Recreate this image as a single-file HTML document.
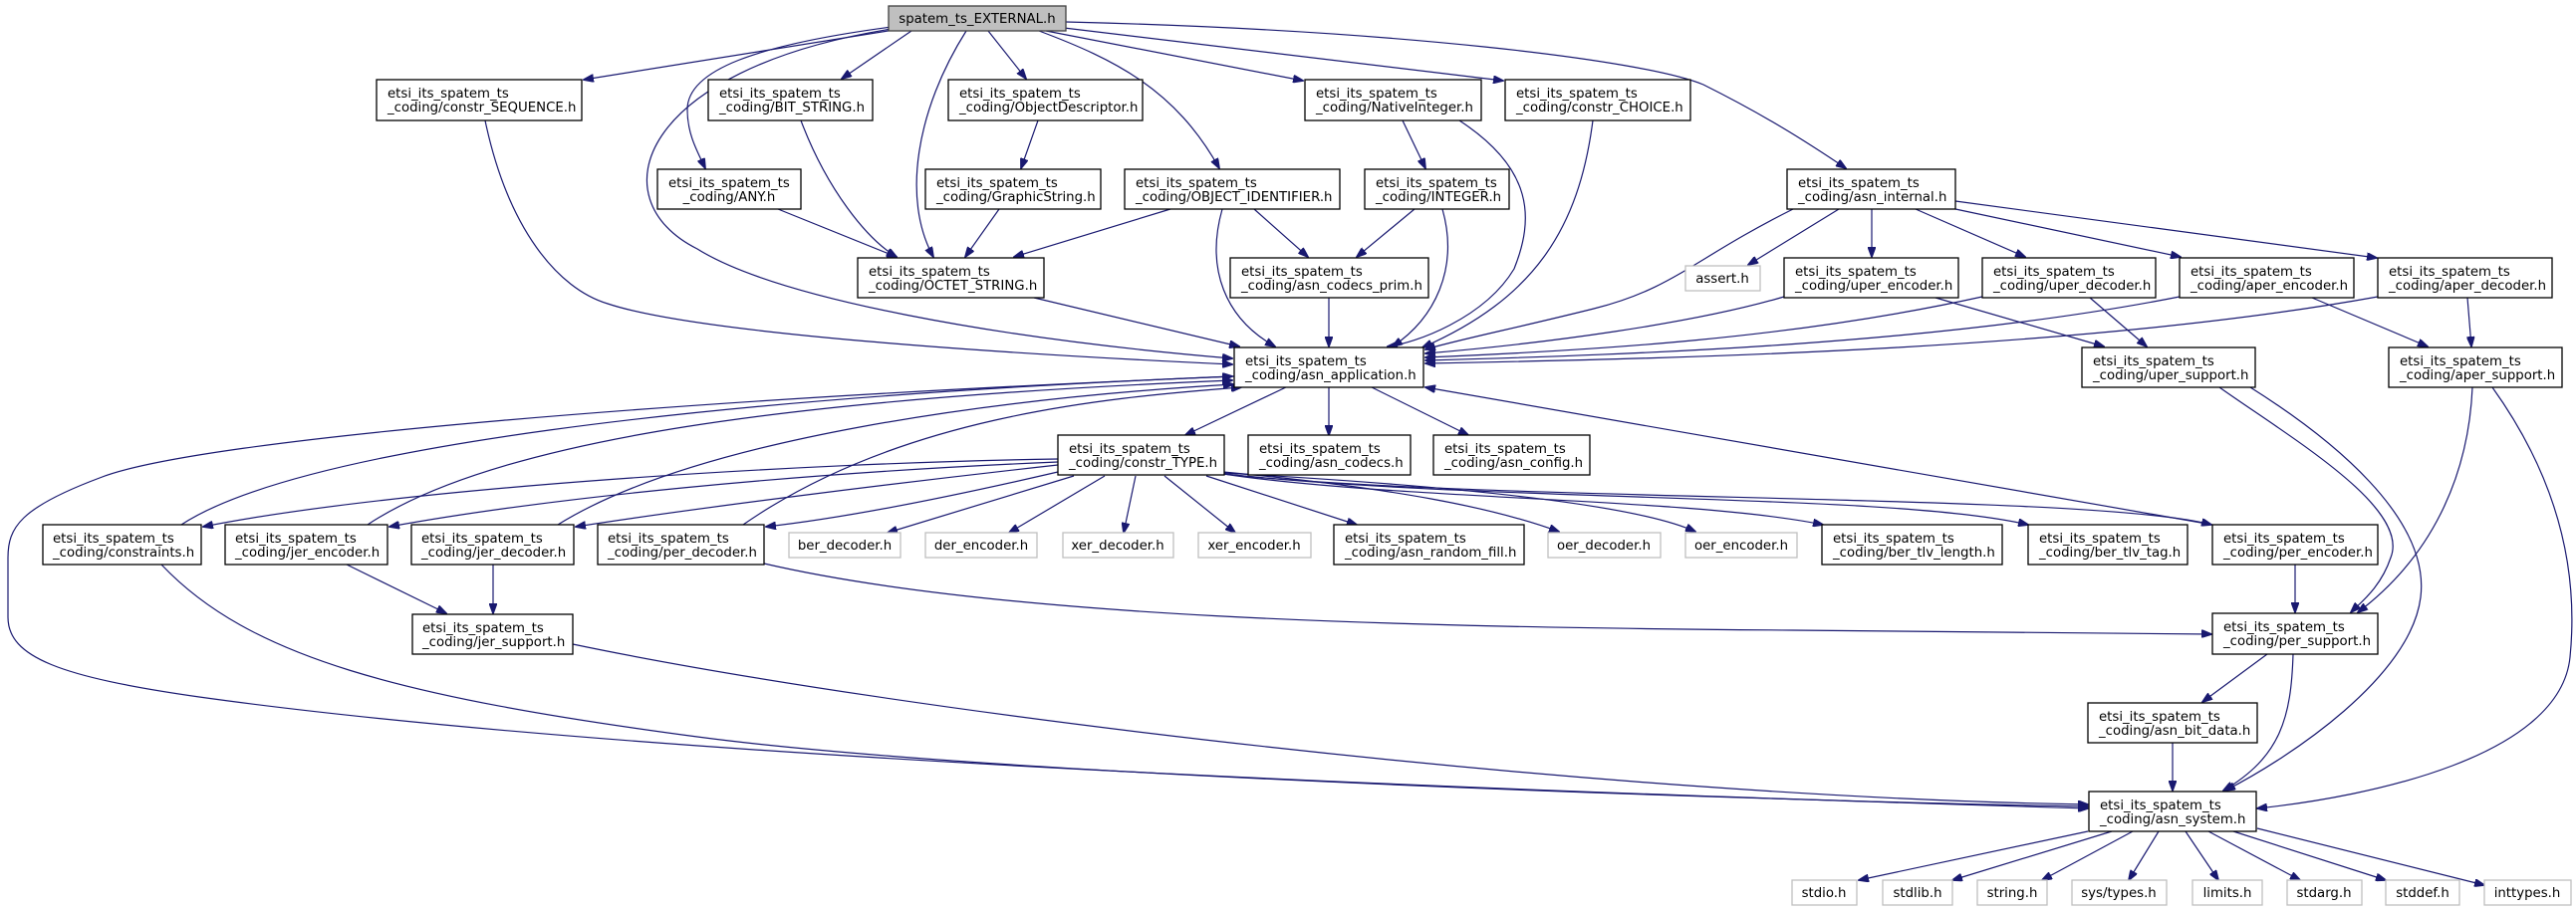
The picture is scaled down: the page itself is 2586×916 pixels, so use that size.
<!DOCTYPE html>
<html><head><meta charset="utf-8"><style>
html,body{margin:0;padding:0;background:#fff;}
svg{display:block;}
text{font-family:"DejaVu Sans","Liberation Sans",sans-serif;font-size:13.3px;fill:#000;}
.e{fill:none;stroke:#191970;stroke-width:1.2;marker-end:url(#a);}
.n{fill:#fff;stroke:#000;stroke-width:1.3;}
.g{fill:#fff;stroke:#bfbfbf;stroke-width:1.3;}
</style></head><body>
<svg width="2586" height="916" viewBox="0 0 2586 916" xmlns="http://www.w3.org/2000/svg">
<defs><marker id="a" markerUnits="userSpaceOnUse" markerWidth="11" markerHeight="8" refX="10" refY="4" orient="auto"><path d="M0,0 L11,4 L0,8 z" fill="#191970" stroke="#191970"/></marker></defs>
<g>
<path class="e" d="M898,30 L586,80"/>
<path class="e" d="M915,31 L845,79"/>
<path class="e" d="M895,27 C760,45 690,70 690,110 C690,135 700,152 708,169"/>
<path class="e" d="M895,29 C640,70 600,200 700,250 C780,300 1000,340 1237,360"/>
<path class="e" d="M970,31 C920,110 905,200 937,258"/>
<path class="e" d="M992,31 L1030,79"/>
<path class="e" d="M1043,31 C1120,60 1180,90 1224,169"/>
<path class="e" d="M1050,31 L1308,81"/>
<path class="e" d="M1068,28 L1509,81"/>
<path class="e" d="M1070,22 C1400,30 1650,60 1710,85 C1770,115 1810,140 1853,169"/>
<path class="e" d="M487,121 C510,230 560,290 610,305 C700,335 1000,355 1237,366"/>
<path class="e" d="M804,121 C830,190 870,240 900,258"/>
<path class="e" d="M781,210 L900,258"/>
<path class="e" d="M1003,210 L969,258"/>
<path class="e" d="M1175,210 L1018,258"/>
<path class="e" d="M1259,210 L1313,258"/>
<path class="e" d="M1227,210 C1210,270 1230,320 1280,348"/>
<path class="e" d="M1042,121 L1025,169"/>
<path class="e" d="M1408,121 L1431,169"/>
<path class="e" d="M1465,121 C1540,170 1540,220 1520,270 C1490,320 1420,345 1393,348"/>
<path class="e" d="M1420,210 L1362,258"/>
<path class="e" d="M1448,210 C1465,270 1440,320 1398,348"/>
<path class="e" d="M1599,121 C1585,230 1540,300 1428,349"/>
<path class="e" d="M1038,299 L1244,348"/>
<path class="e" d="M1334,299 L1334,348"/>
<path class="e" d="M1800,210 C1700,260 1680,290 1600,310 C1520,330 1460,342 1431,351"/>
<path class="e" d="M1846,210 L1755,266"/>
<path class="e" d="M1879,210 L1879,258"/>
<path class="e" d="M1923,210 L2033,258"/>
<path class="e" d="M1963,210 L2189,258"/>
<path class="e" d="M1963,202 L2386,259"/>
<path class="e" d="M1791,298 C1700,325 1550,345 1431,355"/>
<path class="e" d="M1990,298 C1800,340 1600,352 1431,359"/>
<path class="e" d="M2188,298 C1950,345 1650,356 1431,362"/>
<path class="e" d="M2387,298 C2100,350 1700,360 1431,365"/>
<path class="e" d="M1943,299 L2112,348"/>
<path class="e" d="M2098,299 L2155,348"/>
<path class="e" d="M2321,299 L2437,348"/>
<path class="e" d="M2477,299 L2481,348"/>
<path class="e" d="M2228,389 C2300,440 2420,510 2400,560 C2390,590 2370,605 2360,615"/>
<path class="e" d="M2259,389 C2340,440 2440,520 2430,600 C2420,680 2300,760 2234,794"/>
<path class="e" d="M2482,389 C2478,480 2440,560 2367,615"/>
<path class="e" d="M2502,389 C2560,470 2590,560 2580,660 C2570,760 2380,800 2266,812"/>
<path class="e" d="M2304,567 L2304,615"/>
<path class="e" d="M767,566 C1000,620 1400,630 1800,633 C2050,636 2200,636 2220,637"/>
<path class="e" d="M2276,657 L2211,705"/>
<path class="e" d="M2302,657 C2300,720 2290,760 2232,794"/>
<path class="e" d="M2181,746 L2181,794"/>
<path class="e" d="M2096,835 L1866,884"/>
<path class="e" d="M2120,835 L1960,884"/>
<path class="e" d="M2141,835 L2050,884"/>
<path class="e" d="M2167,835 L2137,884"/>
<path class="e" d="M2194,835 L2227,884"/>
<path class="e" d="M2217,835 L2309,884"/>
<path class="e" d="M2242,835 L2395,884"/>
<path class="e" d="M2266,832 L2494,889"/>
<path class="e" d="M575,647 C900,715 1600,800 2096,808"/>
<path class="e" d="M162,567 C250,660 400,700 700,740 C1000,780 1800,805 2096,810"/>
<path class="e" d="M1239,378 C700,400 200,440 100,480 C20,510 8,530 8,560 L8,620 C8,660 60,680 200,700 C700,770 1700,800 2096,812"/>
<path class="e" d="M182,527 C300,450 700,400 1237,378"/>
<path class="e" d="M369,527 C500,440 800,400 1237,382"/>
<path class="e" d="M560,527 C700,440 1000,400 1238,386"/>
<path class="e" d="M746,527 C900,420 1100,400 1246,389"/>
<path class="e" d="M2221,527 L1431,389"/>
<path class="e" d="M1293,388 L1190,437"/>
<path class="e" d="M1334,389 L1334,437"/>
<path class="e" d="M1375,388 L1474,437"/>
<path class="e" d="M1062,461 C800,465 400,490 204,529"/>
<path class="e" d="M1062,464 C800,475 550,500 391,529"/>
<path class="e" d="M1062,467 C900,485 700,510 578,529"/>
<path class="e" d="M1062,474 C950,500 850,520 769,529"/>
<path class="e" d="M1078,478 L891,535"/>
<path class="e" d="M1109,478 L1013,535"/>
<path class="e" d="M1140,478 L1128,535"/>
<path class="e" d="M1169,478 L1240,535"/>
<path class="e" d="M1211,478 L1362,527"/>
<path class="e" d="M1228,474 C1400,490 1500,510 1565,534"/>
<path class="e" d="M1228,475 C1500,490 1650,510 1702,534"/>
<path class="e" d="M1228,476 C1400,502 1700,500 1830,527"/>
<path class="e" d="M1228,476 C1500,505 1900,495 2036,527"/>
<path class="e" d="M1228,476 C1500,505 2100,495 2220,527"/>
<path class="e" d="M348,567 L448,616"/>
<path class="e" d="M495,567 L495,616"/>
</g>
<g>
<rect x="892" y="6" width="178" height="25" fill="#bfbfbf" stroke="#404040" stroke-width="1.3"/>
<text x="981" y="23" text-anchor="middle">spatem_ts_EXTERNAL.h</text>
</g>
<g>
<rect class="n" x="378" y="80" width="206" height="41"/><text x="389" y="98">etsi_its_spatem_ts</text><text x="389" y="112">_coding/constr_SEQUENCE.h</text>
<rect class="n" x="711" y="80" width="165" height="41"/><text x="722" y="98">etsi_its_spatem_ts</text><text x="722" y="112">_coding/BIT_STRING.h</text>
<rect class="n" x="952" y="80" width="195" height="41"/><text x="963" y="98">etsi_its_spatem_ts</text><text x="963" y="112">_coding/ObjectDescriptor.h</text>
<rect class="n" x="1310" y="80" width="177" height="41"/><text x="1321" y="98">etsi_its_spatem_ts</text><text x="1321" y="112">_coding/NativeInteger.h</text>
<rect class="n" x="1511" y="80" width="186" height="41"/><text x="1522" y="98">etsi_its_spatem_ts</text><text x="1522" y="112">_coding/constr_CHOICE.h</text>
<rect class="n" x="660" y="170" width="144" height="40"/><text x="671" y="188">etsi_its_spatem_ts</text><text x="732" y="202" text-anchor="middle">_coding/ANY.h</text>
<rect class="n" x="929" y="170" width="176" height="40"/><text x="940" y="188">etsi_its_spatem_ts</text><text x="940" y="202">_coding/GraphicString.h</text>
<rect class="n" x="1129" y="170" width="216" height="40"/><text x="1140" y="188">etsi_its_spatem_ts</text><text x="1140" y="202">_coding/OBJECT_IDENTIFIER.h</text>
<rect class="n" x="1370" y="170" width="145" height="40"/><text x="1381" y="188">etsi_its_spatem_ts</text><text x="1381" y="202">_coding/INTEGER.h</text>
<rect class="n" x="1794" y="170" width="169" height="40"/><text x="1805" y="188">etsi_its_spatem_ts</text><text x="1805" y="202">_coding/asn_internal.h</text>
<rect class="n" x="861" y="259" width="187" height="40"/><text x="872" y="277">etsi_its_spatem_ts</text><text x="872" y="291">_coding/OCTET_STRING.h</text>
<rect class="n" x="1235" y="259" width="199" height="40"/><text x="1246" y="277">etsi_its_spatem_ts</text><text x="1246" y="291">_coding/asn_codecs_prim.h</text>
<rect class="g" x="1692" y="267" width="75" height="25"/><text x="1729" y="284" text-anchor="middle">assert.h</text>
<rect class="n" x="1791" y="259" width="175" height="40"/><text x="1802" y="277">etsi_its_spatem_ts</text><text x="1802" y="291">_coding/uper_encoder.h</text>
<rect class="n" x="1990" y="259" width="174" height="40"/><text x="2001" y="277">etsi_its_spatem_ts</text><text x="2001" y="291">_coding/uper_decoder.h</text>
<rect class="n" x="2188" y="259" width="175" height="40"/><text x="2199" y="277">etsi_its_spatem_ts</text><text x="2199" y="291">_coding/aper_encoder.h</text>
<rect class="n" x="2387" y="259" width="175" height="40"/><text x="2398" y="277">etsi_its_spatem_ts</text><text x="2398" y="291">_coding/aper_decoder.h</text>
<rect class="n" x="1239" y="349" width="190" height="40"/><text x="1250" y="367">etsi_its_spatem_ts</text><text x="1250" y="381">_coding/asn_application.h</text>
<rect class="n" x="2090" y="349" width="174" height="40"/><text x="2101" y="367">etsi_its_spatem_ts</text><text x="2101" y="381">_coding/uper_support.h</text>
<rect class="n" x="2398" y="349" width="174" height="40"/><text x="2409" y="367">etsi_its_spatem_ts</text><text x="2409" y="381">_coding/aper_support.h</text>
<rect class="n" x="1062" y="437" width="167" height="40"/><text x="1073" y="455">etsi_its_spatem_ts</text><text x="1073" y="469">_coding/constr_TYPE.h</text>
<rect class="n" x="1253" y="437" width="163" height="40"/><text x="1264" y="455">etsi_its_spatem_ts</text><text x="1264" y="469">_coding/asn_codecs.h</text>
<rect class="n" x="1439" y="437" width="157" height="40"/><text x="1450" y="455">etsi_its_spatem_ts</text><text x="1450" y="469">_coding/asn_config.h</text>
<rect class="n" x="43" y="527" width="159" height="40"/><text x="53" y="545">etsi_its_spatem_ts</text><text x="53" y="559">_coding/constraints.h</text>
<rect class="n" x="226" y="527" width="163" height="40"/><text x="236" y="545">etsi_its_spatem_ts</text><text x="236" y="559">_coding/jer_encoder.h</text>
<rect class="n" x="413" y="527" width="163" height="40"/><text x="423" y="545">etsi_its_spatem_ts</text><text x="423" y="559">_coding/jer_decoder.h</text>
<rect class="n" x="600" y="527" width="167" height="40"/><text x="610" y="545">etsi_its_spatem_ts</text><text x="610" y="559">_coding/per_decoder.h</text>
<rect class="g" x="792" y="535" width="112" height="25"/><text x="848" y="552" text-anchor="middle">ber_decoder.h</text>
<rect class="g" x="929" y="535" width="112" height="25"/><text x="985" y="552" text-anchor="middle">der_encoder.h</text>
<rect class="g" x="1067" y="535" width="111" height="25"/><text x="1122" y="552" text-anchor="middle">xer_decoder.h</text>
<rect class="g" x="1203" y="535" width="113" height="25"/><text x="1259" y="552" text-anchor="middle">xer_encoder.h</text>
<rect class="n" x="1339" y="527" width="191" height="40"/><text x="1350" y="545">etsi_its_spatem_ts</text><text x="1350" y="559">_coding/asn_random_fill.h</text>
<rect class="g" x="1554" y="535" width="113" height="25"/><text x="1610" y="552" text-anchor="middle">oer_decoder.h</text>
<rect class="g" x="1692" y="535" width="112" height="25"/><text x="1748" y="552" text-anchor="middle">oer_encoder.h</text>
<rect class="n" x="1829" y="527" width="181" height="40"/><text x="1840" y="545">etsi_its_spatem_ts</text><text x="1840" y="559">_coding/ber_tlv_length.h</text>
<rect class="n" x="2036" y="527" width="160" height="40"/><text x="2047" y="545">etsi_its_spatem_ts</text><text x="2047" y="559">_coding/ber_tlv_tag.h</text>
<rect class="n" x="2221" y="527" width="166" height="40"/><text x="2232" y="545">etsi_its_spatem_ts</text><text x="2232" y="559">_coding/per_encoder.h</text>
<rect class="n" x="414" y="617" width="161" height="40"/><text x="424" y="635">etsi_its_spatem_ts</text><text x="424" y="649">_coding/jer_support.h</text>
<rect class="n" x="2221" y="616" width="166" height="41"/><text x="2232" y="634">etsi_its_spatem_ts</text><text x="2232" y="648">_coding/per_support.h</text>
<rect class="n" x="2096" y="706" width="170" height="40"/><text x="2107" y="724">etsi_its_spatem_ts</text><text x="2107" y="738">_coding/asn_bit_data.h</text>
<rect class="n" x="2097" y="795" width="168" height="40"/><text x="2108" y="813">etsi_its_spatem_ts</text><text x="2108" y="827">_coding/asn_system.h</text>
<rect class="g" x="1799" y="884" width="65" height="25"/><text x="1831" y="901" text-anchor="middle">stdio.h</text>
<rect class="g" x="1890" y="884" width="70" height="25"/><text x="1925" y="901" text-anchor="middle">stdlib.h</text>
<rect class="g" x="1985" y="884" width="70" height="25"/><text x="2020" y="901" text-anchor="middle">string.h</text>
<rect class="g" x="2080" y="884" width="95" height="25"/><text x="2127" y="901" text-anchor="middle">sys/types.h</text>
<rect class="g" x="2201" y="884" width="70" height="25"/><text x="2236" y="901" text-anchor="middle">limits.h</text>
<rect class="g" x="2296" y="884" width="75" height="25"/><text x="2333" y="901" text-anchor="middle">stdarg.h</text>
<rect class="g" x="2395" y="884" width="74" height="25"/><text x="2432" y="901" text-anchor="middle">stddef.h</text>
<rect class="g" x="2494" y="884" width="87" height="25"/><text x="2537" y="901" text-anchor="middle">inttypes.h</text>
</g>
</svg>
</body></html>
